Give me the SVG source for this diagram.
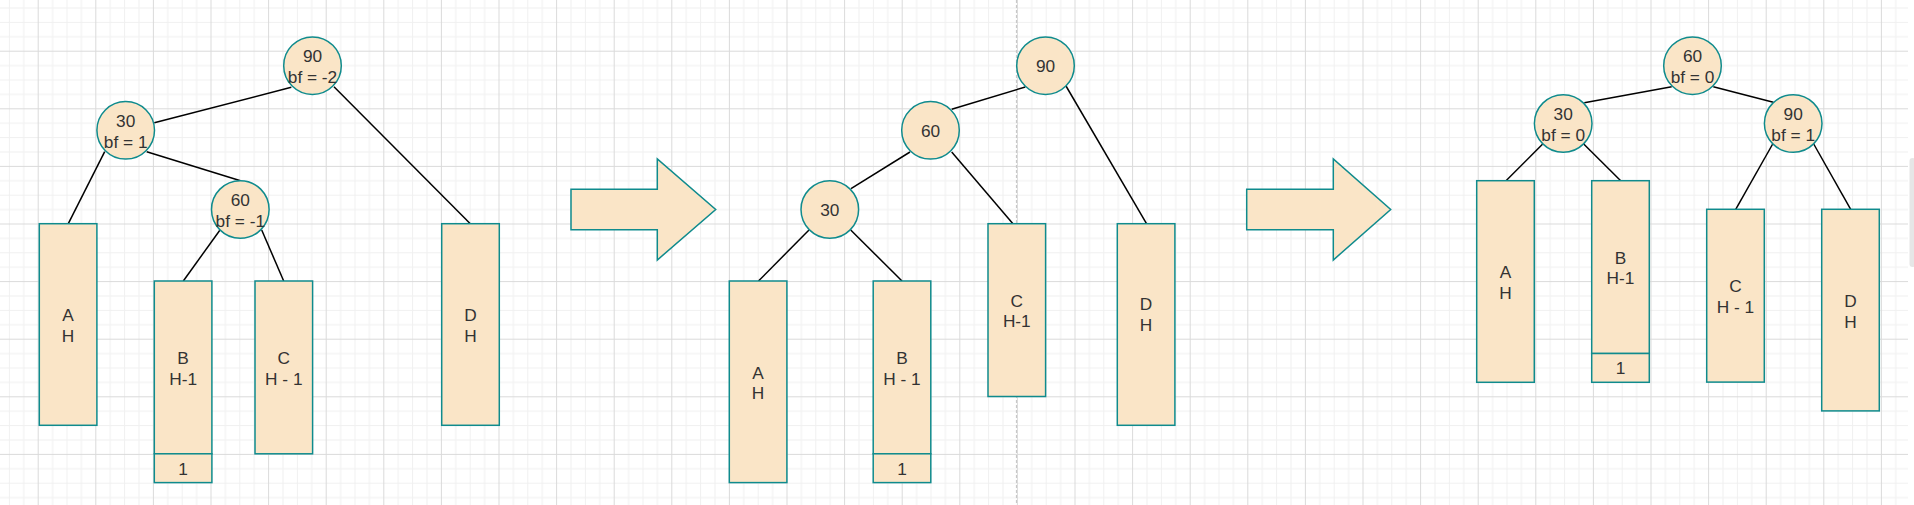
<svg xmlns="http://www.w3.org/2000/svg" width="1914" height="505" viewBox="0 0 1914 505">
<style>
.node{fill:#FAE5C7;stroke:#0F8B8D;stroke-width:1.5}
.t{font-family:"Liberation Sans",Arial,sans-serif;font-size:17.28px;fill:#333333;text-anchor:middle}
.edge{stroke:#000000;stroke-width:1.5;fill:none}
</style>
<defs>
<pattern id="grid" x="37.7" y="50.7" width="57.6" height="57.6" patternUnits="userSpaceOnUse">
<rect x="14.4" y="0" width="1" height="57.6" fill="#f0f0f0"/>
<rect x="28.8" y="0" width="1" height="57.6" fill="#f0f0f0"/>
<rect x="43.2" y="0" width="1" height="57.6" fill="#f0f0f0"/>
<rect x="0" y="14.4" width="57.6" height="1" fill="#f0f0f0"/>
<rect x="0" y="28.8" width="57.6" height="1" fill="#f0f0f0"/>
<rect x="0" y="43.2" width="57.6" height="1" fill="#f0f0f0"/>
<rect x="0" y="0" width="1" height="57.6" fill="#dadada"/>
<rect x="0" y="0" width="57.6" height="1" fill="#dadada"/>
</pattern>
</defs>
<rect x="0" y="0" width="1914" height="505" fill="#ffffff"/>
<rect x="0" y="0" width="1908" height="505" fill="url(#grid)"/>
<line x1="1016.5" y1="0" x2="1016.5" y2="505" stroke="#c8c8c8" stroke-width="1.2" stroke-dasharray="3 2"/>
<rect x="1909.5" y="158" width="6" height="109" rx="3" fill="#e6e6e6"/>

<g id="connectors">
<line class="edge" x1="291.3" y1="87.3" x2="154.3" y2="122.7"/>
<line class="edge" x1="334" y1="86.7" x2="470.3" y2="223.7"/>
<line class="edge" x1="104.7" y1="151.7" x2="68.3" y2="223.7"/>
<line class="edge" x1="146.7" y1="151.7" x2="240.5" y2="180.8"/>
<line class="edge" x1="220" y1="230" x2="183.3" y2="281"/>
<line class="edge" x1="261.7" y1="230" x2="283.7" y2="281"/>

<line class="edge" x1="1025.3" y1="87" x2="951.7" y2="109.3"/>
<line class="edge" x1="1066" y1="86" x2="1146.5" y2="223.7"/>
<line class="edge" x1="910" y1="152" x2="851" y2="188.7"/>
<line class="edge" x1="951.7" y1="152" x2="1014" y2="225"/>
<line class="edge" x1="809" y1="230" x2="758.5" y2="281"/>
<line class="edge" x1="850.7" y1="230" x2="902" y2="281"/>

<line class="edge" x1="1671.7" y1="86.7" x2="1584.3" y2="102.7"/>
<line class="edge" x1="1713.3" y1="86.7" x2="1773.3" y2="102.3"/>
<line class="edge" x1="1542.7" y1="144" x2="1506" y2="180.7"/>
<line class="edge" x1="1583.7" y1="144" x2="1620.7" y2="180.7"/>
<line class="edge" x1="1772.7" y1="144" x2="1735.7" y2="209.3"/>
<line class="edge" x1="1813.7" y1="144" x2="1850.7" y2="209.3"/>
</g>

<!-- Panel 1 -->
<g id="p1-n90"><circle class="node" cx="312.5" cy="65.7" r="28.8"/><text class="t" x="312.5" y="62.3">90</text><text class="t" x="312.5" y="83">bf = -2</text></g>
<g id="p1-n30"><circle class="node" cx="125.7" cy="130.3" r="28.8"/><text class="t" x="125.7" y="126.9">30</text><text class="t" x="125.7" y="147.6">bf = 1</text></g>
<g id="p1-n60"><circle class="node" cx="240.3" cy="209.5" r="28.8"/><text class="t" x="240.3" y="206.1">60</text><text class="t" x="240.3" y="226.8">bf = -1</text></g>
<g id="p1-A"><rect class="node" x="39.3" y="223.7" width="57.6" height="201.6"/><text class="t" x="68.1" y="321.2">A</text><text class="t" x="68.1" y="341.9">H</text></g>
<g id="p1-B"><rect class="node" x="154.3" y="281" width="57.6" height="172.8"/><text class="t" x="183.1" y="364">B</text><text class="t" x="183.1" y="384.7">H-1</text></g>
<g id="p1-B1"><rect class="node" x="154.3" y="453.8" width="57.6" height="28.8"/><text class="t" x="183.1" y="474.6">1</text></g>
<g id="p1-C"><rect class="node" x="255" y="281" width="57.6" height="172.8"/><text class="t" x="283.8" y="364">C</text><text class="t" x="283.8" y="384.7">H - 1</text></g>
<g id="p1-D"><rect class="node" x="441.7" y="223.7" width="57.6" height="201.6"/><text class="t" x="470.5" y="321.2">D</text><text class="t" x="470.5" y="341.9">H</text></g>

<g id="arrow1"><polygon class="node" points="571,189.3 657.3,189.3 657.3,159 715.7,209.5 657.3,260 657.3,229.7 571,229.7"/></g>

<!-- Panel 2 -->
<g id="p2-n90"><circle class="node" cx="1045.5" cy="65.7" r="28.8"/><text class="t" x="1045.5" y="71.9">90</text></g>
<g id="p2-n60"><circle class="node" cx="930.5" cy="130.3" r="28.8"/><text class="t" x="930.5" y="136.5">60</text></g>
<g id="p2-n30"><circle class="node" cx="829.8" cy="209.5" r="28.8"/><text class="t" x="829.8" y="215.7">30</text></g>
<g id="p2-A"><rect class="node" x="729.3" y="281" width="57.6" height="201.6"/><text class="t" x="758.1" y="378.5">A</text><text class="t" x="758.1" y="399.2">H</text></g>
<g id="p2-B"><rect class="node" x="873.2" y="281" width="57.6" height="172.8"/><text class="t" x="902" y="364">B</text><text class="t" x="902" y="384.7">H - 1</text></g>
<g id="p2-B1"><rect class="node" x="873.2" y="453.8" width="57.6" height="28.8"/><text class="t" x="902" y="474.6">1</text></g>
<g id="p2-C"><rect class="node" x="988" y="223.7" width="57.6" height="172.8"/><text class="t" x="1016.8" y="306.6">C</text><text class="t" x="1016.8" y="327.3">H-1</text></g>
<g id="p2-D"><rect class="node" x="1117.3" y="223.7" width="57.6" height="201.6"/><text class="t" x="1146.1" y="310">D</text><text class="t" x="1146.1" y="330.7">H</text></g>

<g id="arrow2"><polygon class="node" points="1246.7,189.3 1333.3,189.3 1333.3,159 1390.7,209.5 1333.3,260 1333.3,229.7 1246.7,229.7"/></g>

<!-- Panel 3 -->
<g id="p3-n60"><circle class="node" cx="1692.5" cy="65.7" r="28.8"/><text class="t" x="1692.5" y="62.3">60</text><text class="t" x="1692.5" y="83">bf = 0</text></g>
<g id="p3-n30"><circle class="node" cx="1563.2" cy="123.5" r="28.8"/><text class="t" x="1563.2" y="120.1">30</text><text class="t" x="1563.2" y="140.8">bf = 0</text></g>
<g id="p3-n90"><circle class="node" cx="1793.2" cy="123.5" r="28.8"/><text class="t" x="1793.2" y="120.1">90</text><text class="t" x="1793.2" y="140.8">bf = 1</text></g>
<g id="p3-A"><rect class="node" x="1476.7" y="180.7" width="57.6" height="201.6"/><text class="t" x="1505.5" y="278.2">A</text><text class="t" x="1505.5" y="298.9">H</text></g>
<g id="p3-B"><rect class="node" x="1591.7" y="180.7" width="57.6" height="172.8"/><text class="t" x="1620.5" y="263.7">B</text><text class="t" x="1620.5" y="284.4">H-1</text></g>
<g id="p3-B1"><rect class="node" x="1591.7" y="353.5" width="57.6" height="28.8"/><text class="t" x="1620.5" y="373.8">1</text></g>
<g id="p3-C"><rect class="node" x="1706.7" y="209.3" width="57.6" height="172.8"/><text class="t" x="1735.5" y="292.4">C</text><text class="t" x="1735.5" y="313.1">H - 1</text></g>
<g id="p3-D"><rect class="node" x="1821.7" y="209.3" width="57.6" height="201.6"/><text class="t" x="1850.5" y="306.8">D</text><text class="t" x="1850.5" y="327.5">H</text></g>
</svg>
